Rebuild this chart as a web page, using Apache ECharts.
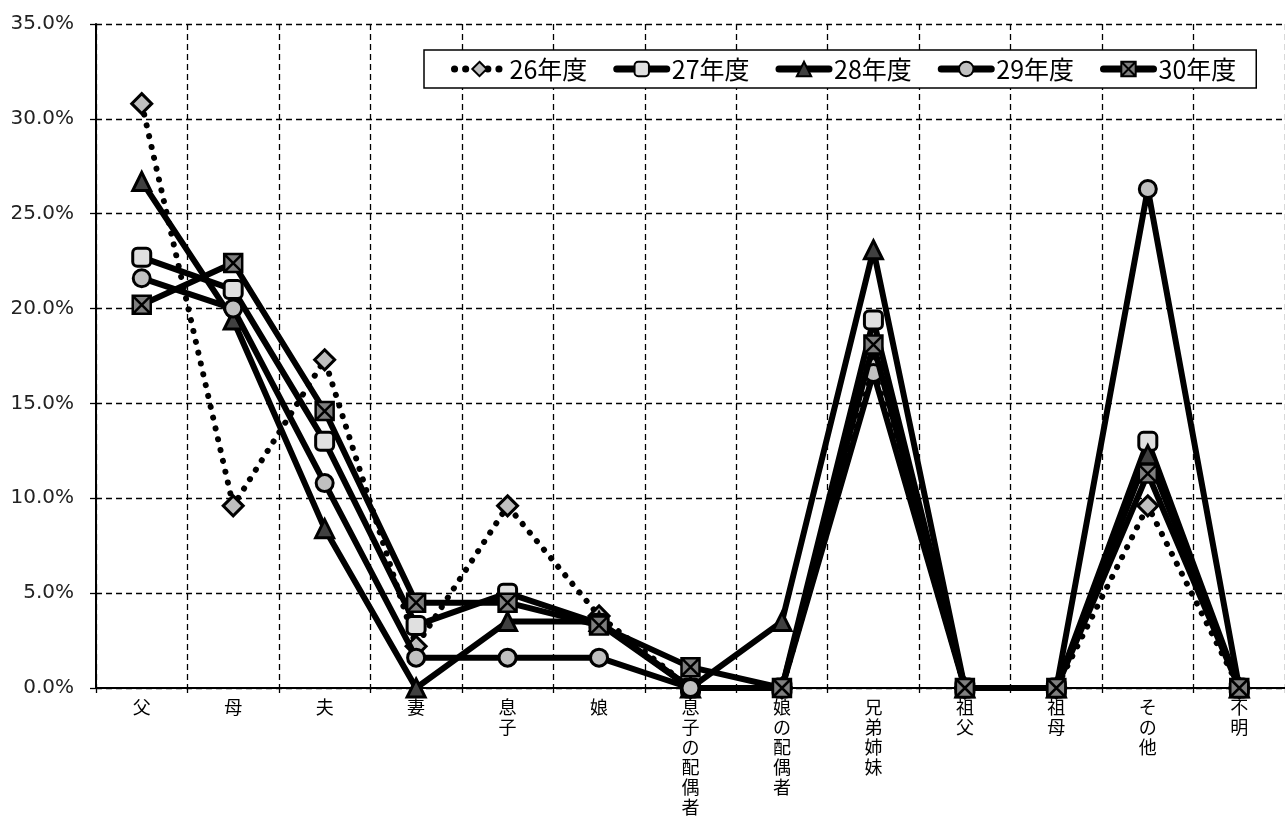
<!DOCTYPE html>
<html>
<head>
<meta charset="utf-8">
<script src="https://cdn.jsdelivr.net/npm/echarts@6/dist/echarts.min.js"></script>
<style>
html,body{margin:0;padding:0;background:#fff;}
#c{width:1285px;height:823px;}
</style>
</head>
<body>
<div id="c"></div>
<script>
const categories = ['父','母','夫','妻','息子','娘','息子の配偶者','娘の配偶者','兄弟姉妹','祖父','祖母','その他','不明'];
const seriesNames = ['26年度','27年度','28年度','29年度','30年度'];
const s26 = [30.8, 9.6, 17.3, 2.2, 9.6, 3.8, 0, 0, 16.9, 0, 0, 9.6, 0];
const s27 = [22.7, 21.0, 13.0, 3.3, 5.0, 3.4, 0, 0, 19.4, 0, 0, 13.0, 0];
const s28 = [26.7, 19.4, 8.4, 0, 3.5, 3.5, 0, 3.5, 23.1, 0, 0, 12.3, 0];
const s29 = [21.6, 20.0, 10.8, 1.6, 1.6, 1.6, 0, 0, 16.6, 0, 0, 26.3, 0];
const s30 = [20.2, 22.4, 14.6, 4.5, 4.5, 3.3, 1.1, 0, 18.1, 0, 0, 11.3, 0];
const yTicks = [0, 5, 10, 15, 20, 25, 30, 35];

const chart = echarts.init(document.getElementById('c'), null, {renderer:'canvas'});
const dash = {type:[6,4], color:'#000', width:1.3};
function mk(name, data, symbol, size, fill, lineType, bw, z){
  return {
    name, type:'line', data, symbol, symbolSize:size, z,
    lineStyle:{color:'#000', width:6, type:lineType||'solid', cap:'round', join:'round'},
    itemStyle:{color:fill, borderColor:'#000', borderWidth:bw||3},
    emphasis:{disabled:true}
  };
}
chart.setOption({
  animation:false,
  backgroundColor:'#fff',
  grid:{left:96, top:24, width:1193, height:664, containLabel:false},
  legend:{
    data:seriesNames, left:424, top:50,
    itemWidth:50, itemHeight:18, itemGap:26,
    padding:[4,20,4,27],
    borderColor:'#000', borderWidth:1.5, backgroundColor:'#fff',
    lineStyle:{width:7, type:'inherit', cap:'round'},
    textStyle:{fontSize:25, lineHeight:30, color:'#000', fontFamily:'Noto Sans CJK JP'}
  },
  xAxis:{
    type:'category', data:categories, boundaryGap:true,
    axisLine:{lineStyle:{color:'#000', width:2}},
    axisTick:{show:true, length:5, lineStyle:{color:'#000', width:1.3}},
    splitLine:{show:true, lineStyle:dash},
    axisLabel:{
      interval:0, margin:9, fontSize:18, lineHeight:20, color:'#000',
      fontFamily:'Noto Sans CJK JP',
      formatter:v=>v.split('').join('\n'),
      verticalAlign:'top'
    }
  },
  yAxis:{
    type:'value', min:yTicks[0], max:yTicks[yTicks.length-1], interval:5,
    axisLine:{show:true, lineStyle:{color:'#000', width:2}},
    axisTick:{show:true, length:6, lineStyle:{color:'#000', width:1.3}},
    splitLine:{show:true, lineStyle:dash},
    axisLabel:{margin:22, fontSize:20, color:'#222', fontFamily:'DejaVu Sans',
      formatter:v=>v.toFixed(1)+'%'}
  },
  series:[
    mk(seriesNames[0], s26, 'diamond', 20, '#bfbfbf', [0.1,11], 3, 2),
    mk(seriesNames[1], s27, 'roundRect', 18, '#e0e0e0', 'solid', 3, 3),
    mk(seriesNames[2], s28, 'triangle', 18, '#404040', 'solid', 3, 4),
    mk(seriesNames[3], s29, 'circle', 17, '#c0c0c0', 'solid', 3, 5),
    mk(seriesNames[4], s30, 'path://M0,0 L10,0 L10,10 L0,10 Z M0,0 L10,10 M10,0 L0,10', 18, '#7f7f7f', 'solid', 2.5, 6)
  ]
});
</script>
</body>
</html>
